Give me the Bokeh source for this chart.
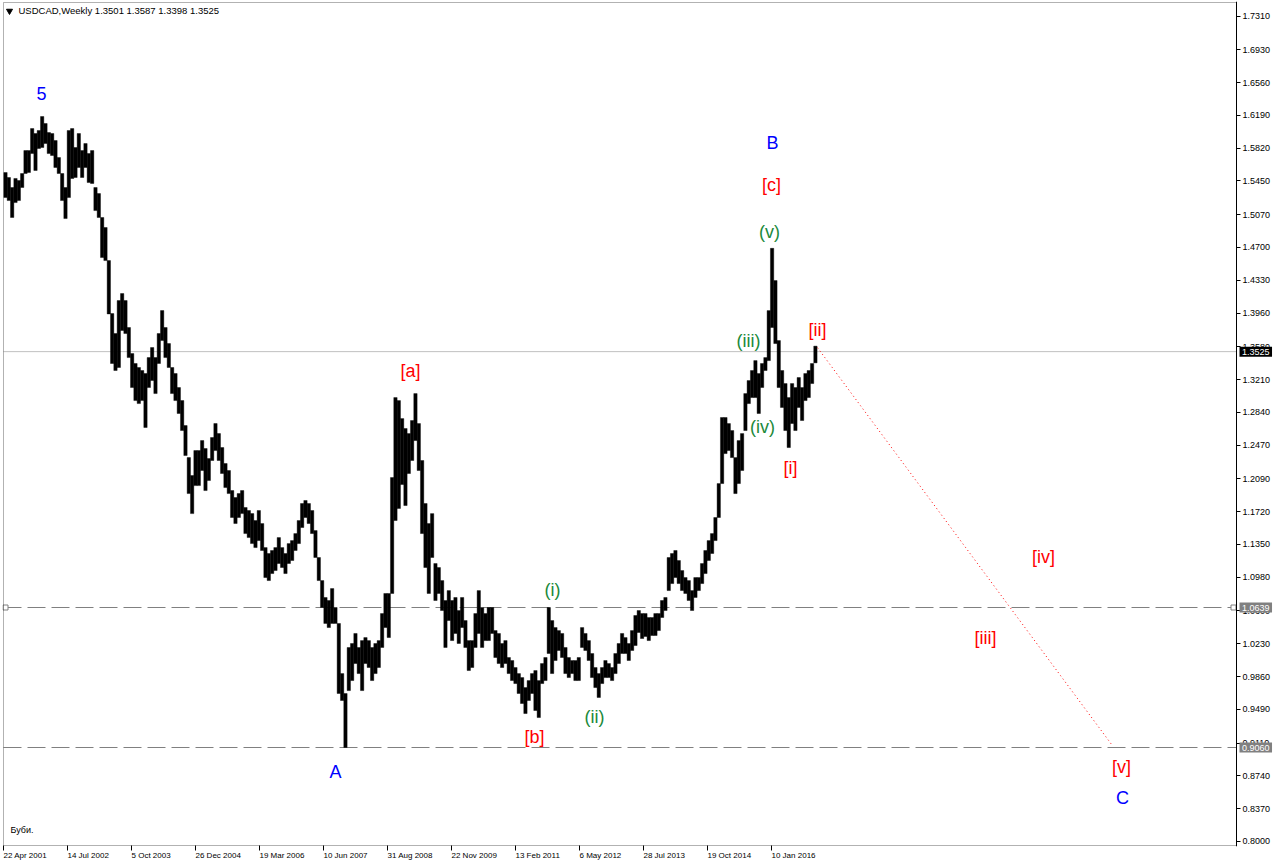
from bokeh.plotting import figure
from bokeh.models import FixedTicker, Label, Range1d, ColumnDataSource, BoxAnnotation
from bokeh.embed import file_html
from bokeh.resources import INLINE
from bokeh.core.properties import value

# ---------------- data ----------------
# weekly USDCAD, one sample per ~3.3 weeks: highs and lows
high = [
    1.5545, 1.5489, 1.5376, 1.5478, 1.5455, 1.5534, 1.5793, 1.5793, 1.6041, 1.5985,
    1.6019, 1.6177, 1.6098, 1.5996, 1.5985, 1.5906, 1.5714, 1.5534, 1.5376, 1.6019,
    1.6041, 1.5827, 1.5985, 1.5793, 1.5872, 1.5759, 1.5793, 1.5376, 1.5308, 1.5038,
    1.4925, 1.4552, 1.3954, 1.3729, 1.4101, 1.4180, 1.4101, 1.3797, 1.3503, 1.3391,
    1.3346, 1.3312, 1.3278, 1.3458, 1.3571, 1.3458, 1.3729, 1.3988, 1.3797, 1.3616,
    1.3346, 1.3278, 1.3120, 1.2973, 1.2691, 1.2330, 1.2127, 1.2409, 1.2409, 1.2522,
    1.2432, 1.2319, 1.2556, 1.2714, 1.2601, 1.2443, 1.2263, 1.2184, 1.1958, 1.1879,
    1.1924, 1.1958, 1.1767, 1.1733, 1.1698, 1.1620, 1.1733, 1.1586, 1.1315, 1.1248,
    1.1282, 1.1315, 1.1428, 1.1315, 1.1248, 1.1360, 1.1394, 1.1473, 1.1620, 1.1812,
    1.1846, 1.1812, 1.1733, 1.1507, 1.1203, 1.0943, 1.0752, 1.0718, 1.0853, 1.0639,
    1.0459, 0.9894, 0.9669, 1.0188, 1.0233, 1.0346, 1.0188, 1.0266, 1.0300, 1.0266,
    1.0188, 1.0233, 1.0266, 1.0571, 1.0797, 1.0797, 1.2105, 1.3007, 1.2973, 1.2770,
    1.2658, 1.2601, 1.2748, 1.3052, 1.2714, 1.2297, 1.1812, 1.1586, 1.1698, 1.1135,
    1.1090, 1.0943, 1.0718, 1.0830, 1.0718, 1.0752, 1.0605, 1.0752, 1.0492, 1.0266,
    1.0266, 1.0571, 1.0830, 1.0639, 1.0571, 1.0639, 1.0639, 1.0379, 1.0346, 1.0233,
    1.0266, 1.0075, 1.0041, 0.9962, 0.9894, 0.9849, 0.9736, 0.9815, 0.9894, 0.9928,
    0.9815, 1.0007, 1.0075, 1.0639, 1.0492, 1.0413, 1.0379, 1.0346, 1.0188, 1.0075,
    1.0041, 1.0041, 1.0075, 1.0413, 1.0346, 1.0266, 1.0120, 0.9962, 0.9894, 0.9962,
    1.0041, 1.0007, 0.9962, 1.0120, 1.0233, 1.0346, 1.0300, 1.0233, 1.0379, 1.0549,
    1.0605, 1.0571, 1.0571, 1.0526, 1.0526, 1.0571, 1.0571, 1.0718, 1.0752, 1.1203,
    1.1248, 1.1282, 1.1169, 1.1056, 1.0977, 1.0943, 1.0830, 1.0977, 1.0977, 1.1135,
    1.1282, 1.1394, 1.1473, 1.1654, 1.2037, 1.2782, 1.2782, 1.2714, 1.2635, 1.2330,
    1.2522, 1.2601, 1.3052, 1.3199, 1.3312, 1.3424, 1.3278, 1.3391, 1.3458, 1.3988,
    1.4690, 1.4327, 1.3650, 1.3312, 1.3165, 1.3007, 1.3165, 1.3120, 1.3233, 1.3120,
    1.3278, 1.3312, 1.3391, 1.3587,
]
low = [
    1.5263, 1.5229, 1.5038, 1.5206, 1.5229, 1.5376, 1.5534, 1.5545, 1.5759, 1.5568,
    1.5816, 1.5827, 1.5872, 1.5759, 1.5737, 1.5602, 1.5534, 1.5229, 1.5026, 1.5263,
    1.5478, 1.5489, 1.5602, 1.5489, 1.5602, 1.5432, 1.5421, 1.5116, 1.5038, 1.4586,
    1.4552, 1.3950, 1.3391, 1.3312, 1.3346, 1.3763, 1.3729, 1.3458, 1.3120, 1.2973,
    1.2939, 1.2973, 1.2669, 1.3120, 1.3199, 1.3052, 1.3391, 1.3650, 1.3458, 1.3346,
    1.3052, 1.2973, 1.2827, 1.2635, 1.2353, 1.1924, 1.1698, 1.2014, 1.2014, 1.2184,
    1.1958, 1.2071, 1.2297, 1.2409, 1.2297, 1.2150, 1.1992, 1.1924, 1.1654, 1.1586,
    1.1654, 1.1698, 1.1473, 1.1428, 1.1360, 1.1315, 1.1394, 1.1282, 1.0977, 1.0943,
    1.1022, 1.1056, 1.1135, 1.1090, 1.1022, 1.1135, 1.1169, 1.1282, 1.1360, 1.1541,
    1.1654, 1.1586, 1.1473, 1.1203, 1.0943, 1.0639, 1.0459, 1.0413, 1.0459, 1.0459,
    0.9669, 0.9590, 0.9060, 0.9702, 0.9815, 1.0007, 0.9894, 0.9702, 1.0007, 0.9962,
    0.9815, 0.9894, 0.9962, 1.0188, 1.0413, 1.0300, 1.0797, 1.1620, 1.1756, 1.2026,
    1.1789, 1.2150, 1.2297, 1.2522, 1.2184, 1.1473, 1.1090, 1.0797, 1.1203, 1.0718,
    1.0797, 1.0605, 1.0188, 1.0492, 1.0266, 1.0346, 1.0233, 1.0413, 1.0188, 0.9928,
    0.9962, 1.0188, 1.0346, 1.0188, 1.0266, 1.0266, 1.0346, 1.0075, 1.0007, 0.9962,
    1.0007, 0.9894, 0.9815, 0.9781, 0.9669, 0.9556, 0.9443, 0.9590, 0.9669, 0.9477,
    0.9398, 0.9781, 0.9815, 1.0120, 0.9894, 1.0041, 1.0154, 1.0075, 0.9894, 0.9849,
    0.9894, 0.9815, 0.9815, 1.0188, 1.0154, 1.0041, 0.9849, 0.9736, 0.9624, 0.9781,
    0.9849, 0.9849, 0.9815, 0.9894, 1.0007, 1.0120, 1.0120, 1.0041, 1.0154, 1.0210,
    1.0357, 1.0289, 1.0312, 1.0266, 1.0323, 1.0323, 1.0379, 1.0526, 1.0605, 1.0830,
    1.0909, 1.0977, 1.0909, 1.0830, 1.0797, 1.0718, 1.0605, 1.0752, 1.0830, 1.0909,
    1.1022, 1.1169, 1.1248, 1.1394, 1.1654, 1.2037, 1.2375, 1.2409, 1.2330, 1.1924,
    1.2037, 1.2184, 1.2635, 1.2939, 1.3007, 1.3007, 1.2827, 1.3120, 1.3312, 1.3424,
    1.3797, 1.3616, 1.3120, 1.2895, 1.2635, 1.2443, 1.2714, 1.2635, 1.2895, 1.2748,
    1.2973, 1.3007, 1.3165, 1.3398,
]
FIRST_WEEK = 2.0          # week (since 22 Apr 2001) of the first sample
SAMPLE_WEEKS = 3.333      # weeks covered by one sample

date_labels = ["22 Apr 2001", "14 Jul 2002", "5 Oct 2003", "26 Dec 2004", "19 Mar 2006",
               "10 Jun 2007", "31 Aug 2008", "22 Nov 2009", "13 Feb 2011", "6 May 2012",
               "28 Jul 2013", "19 Oct 2014", "10 Jan 2016"]
date_weeks = [0, 64, 128, 192, 256, 320, 384, 448, 512, 576, 640, 704, 768]

price_ticks = [0.8000, 0.8370, 0.8740, 0.9110, 0.9490, 0.9860, 1.0230, 1.0600, 1.0980,
               1.1350, 1.1720, 1.2090, 1.2470, 1.2840, 1.3210, 1.3580, 1.3960, 1.4330,
               1.4700, 1.5070, 1.5450, 1.5820, 1.6190, 1.6560, 1.6930, 1.7310]

last_price = 1.3525
level_prices = [1.0639, 0.9060]
ohlc_title = "USDCAD,Weekly  1.3501 1.3587 1.3398 1.3525"

forecast_weeks = [814, 1109]
forecast_prices = [1.3570, 0.9080]

wave_text = ["5", "A", "B", "C",
             "[a]", "[b]", "[c]", "[i]", "[ii]", "[iii]", "[iv]", "[v]",
             "(i)", "(ii)", "(iii)", "(iv)", "(v)"]
wave_week = [38, 332, 769, 1119,
             407, 531, 768, 787, 814, 982, 1040, 1118,
             549, 591, 745, 759, 766]
wave_price = [1.6436, 0.8789, 1.5873, 0.8496,
              1.3312, 0.9184, 1.5399, 1.2207, 1.3774, 1.0300, 1.1214, 0.8845,
              1.0842, 0.9409, 1.3650, 1.2680, 1.4869]
wave_degree = ["primary"] * 4 + ["intermediate"] * 8 + ["minor"] * 5

# ---------------- styling / layout ----------------
FONT = "Liberation Sans"
degree_color = {"primary": "#0000FF", "intermediate": "#FF0000", "minor": "#20893A"}
CHART_END = 1233                    # right edge of the chart box (weeks); price scale sits there
BOX_TOP, BOX_BOTTOM = 1.74628, 0.79546

weeks = [FIRST_WEEK + SAMPLE_WEEKS * i for i in range(len(high))]
bars = ColumnDataSource(dict(x=weeks, top=high, bottom=low))
waves = ColumnDataSource(dict(x=wave_week, y=wave_price, text=wave_text,
                              color=[degree_color[d] for d in wave_degree]))

p = figure(frame_width=1272, frame_height=845,
           x_range=Range1d(-1, 1271), y_range=Range1d(0.79434, 1.74741),
           output_backend="svg", toolbar_location=None,
           y_axis_location="right", x_axis_location="below",
           min_border=0, min_border_left=2, min_border_right=0,
           min_border_top=1, min_border_bottom=18)
p.background_fill_color = "white"
p.border_fill_color = "white"
p.outline_line_color = None
p.xgrid.visible = False
p.ygrid.visible = False

# time axis (ticks at the left end of each date label)
p.xaxis.ticker = FixedTicker(ticks=date_weeks)
p.xaxis.major_label_overrides = {w: s for w, s in zip(date_weeks, date_labels)}
p.xaxis.major_label_orientation = -1e-4
p.xaxis.major_label_standoff = 5
p.xaxis.axis_line_color = None
p.xaxis.major_tick_in = 1
p.xaxis.major_label_text_font_size = "8px"

# price scale pinned to the right edge of the chart box
p.yaxis.fixed_location = CHART_END
p.yaxis.ticker = FixedTicker(ticks=price_ticks)
p.yaxis.major_label_overrides = {t: f"{t:.4f}" for t in price_ticks}
p.yaxis.major_label_standoff = 2
p.yaxis.major_tick_in = 0
p.yaxis.axis_line_color = "black"
p.yaxis.major_label_text_font_size = "9px"
for ax in (p.xaxis, p.yaxis):
    ax.major_tick_line_color = "black"
    ax.minor_tick_line_color = None
    ax.major_tick_out = 4
    ax.major_label_text_font = FONT
    ax.major_label_text_color = "black"

# chart box
p.add_layout(BoxAnnotation(left=0, right=CHART_END, top=BOX_TOP, bottom=BOX_BOTTOM,
                           fill_alpha=0, line_color="black", line_width=1))

# reference lines
p.segment(x0=[0], x1=[CHART_END], y0=[last_price], y1=[last_price],
          line_color="#C0C0C0", line_width=1)
p.segment(x0=[0, 0], x1=[CHART_END, CHART_END], y0=level_prices, y1=level_prices,
          line_color="#808080", line_width=1, line_dash="18 6")
p.scatter(x=[2, CHART_END - 3], y=[level_prices[0]] * 2, marker="square", size=5,
          fill_color="white", line_color="#808080", line_width=1)

# price bars
p.vbar(x="x", width=SAMPLE_WEEKS, top="top", bottom="bottom", source=bars,
       fill_color="black", line_color="black", line_width=0.4)

# forecast
p.line(forecast_weeks, forecast_prices, line_color="#FF0000", line_width=1, line_dash="1 3")

# wave labels
p.text(x="x", y="y", text="text", text_color="color", source=waves,
       text_font=value(FONT), text_font_size="18px",
       text_align="center", text_baseline="middle")

# header / footer texts
p.scatter(x=[6], y=[1.7367], marker="inverted_triangle", size=6,
          fill_color="black", line_color="black")
p.add_layout(Label(x=15, y=1.7373, text=ohlc_title,
                   text_font=FONT, text_font_size="9.5px", text_color="black",
                   text_baseline="middle", text_align="left"))
p.add_layout(Label(x=7, y=0.8135, text="Буби.",
                   text_font=FONT, text_font_size="9px", text_color="black",
                   text_baseline="middle", text_align="left"))

# price tags on the price scale
for price, bg in ((last_price, "black"), (level_prices[0], "#808080"), (level_prices[1], "#808080")):
    p.add_layout(Label(x=CHART_END + 3, y=price, text="\u00a0" + f"{price:.4f}" + "\u00a0",
                       text_font=FONT, text_font_size="9px", text_color="white",
                       text_baseline="middle", text_align="left",
                       background_fill_color=bg))

open("out.html", "w").write(file_html(p, INLINE))
